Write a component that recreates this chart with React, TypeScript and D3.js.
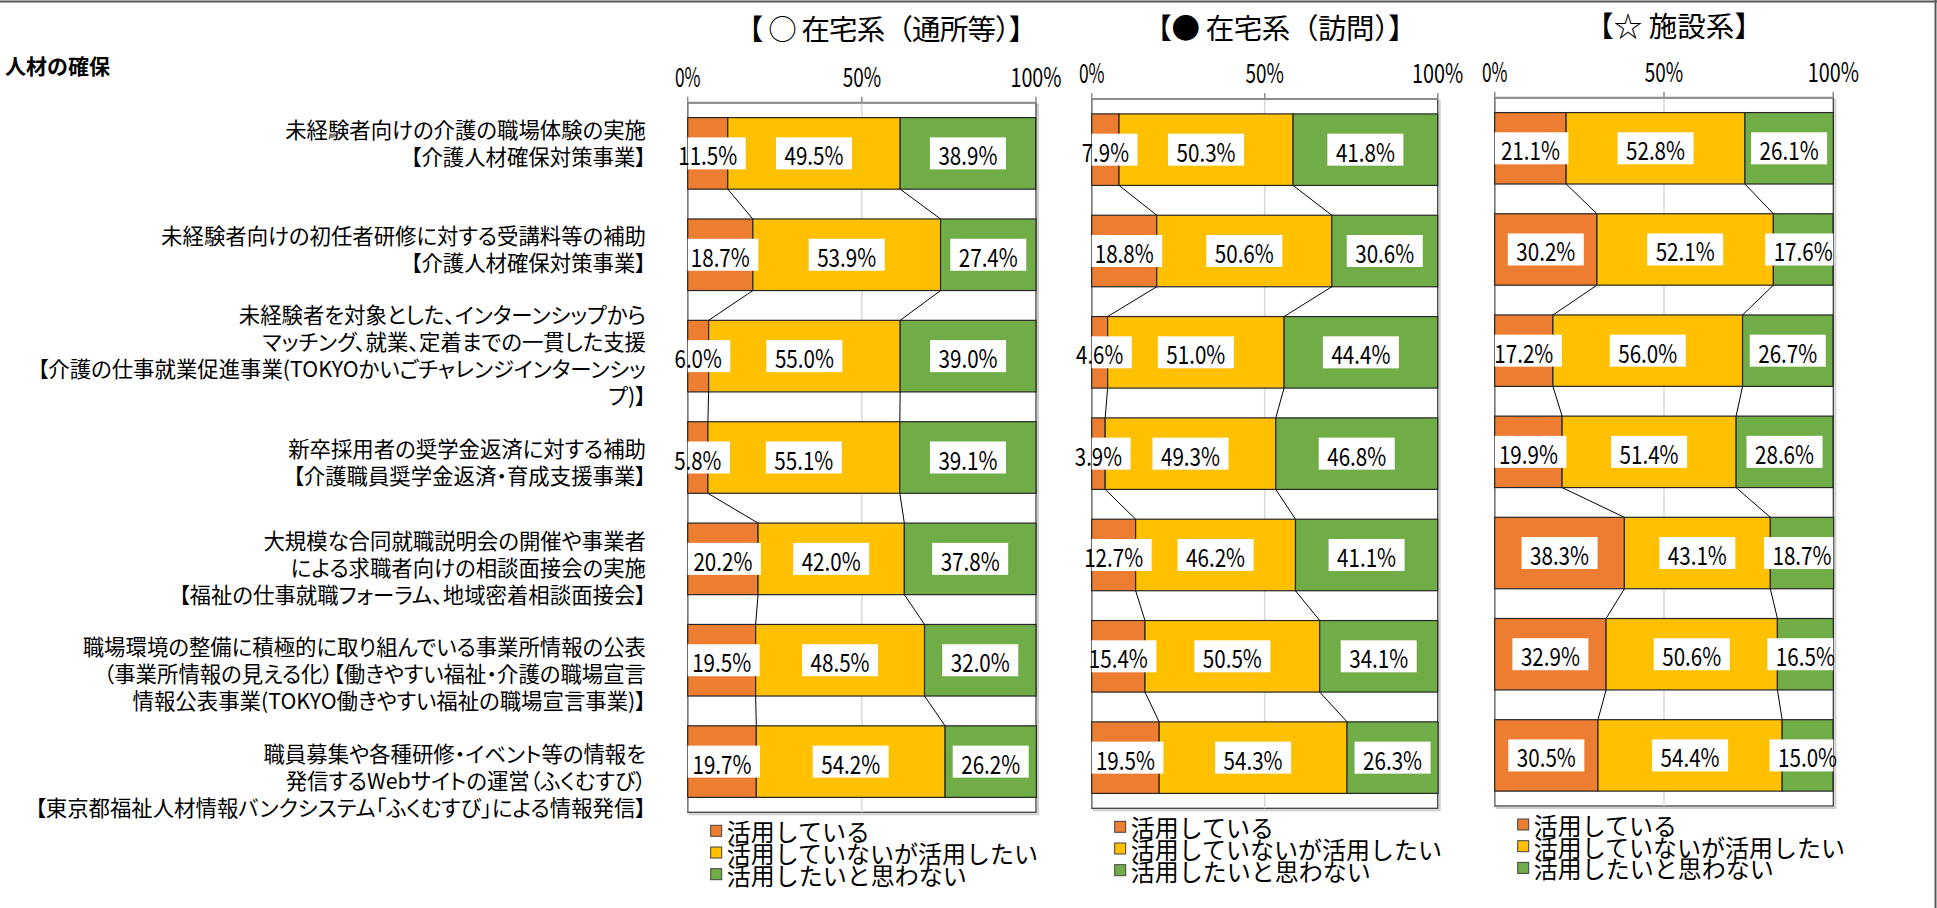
import React, { useEffect, useRef } from "react";
import * as d3 from "d3";

const W = 1937;
const H = 908;
const FONT = '"Noto Sans CJK JP", "Noto Sans", sans-serif';

const sectionTitle = "人材の確保";

const categories = ["c1", "c2", "c3", "c4", "c5", "c6", "c7"];
const categoryLines = [
  ["未経験者向けの介護の職場体験の実施", "【介護人材確保対策事業】"],
  ["未経験者向けの初任者研修に対する受講料等の補助", "【介護人材確保対策事業】"],
  [
    "未経験者を対象とした、インターンシップから",
    "マッチング、就業、定着までの一貫した支援",
    "【介護の仕事就業促進事業(TOKYOかいごチャレンジインターンシッ",
    "プ)】",
  ],
  ["新卒採用者の奨学金返済に対する補助", "【介護職員奨学金返済・育成支援事業】"],
  [
    "大規模な合同就職説明会の開催や事業者",
    "による求職者向けの相談面接会の実施",
    "【福祉の仕事就職フォーラム、地域密着相談面接会】",
  ],
  [
    "職場環境の整備に積極的に取り組んでいる事業所情報の公表",
    "（事業所情報の見える化）【働きやすい福祉・介護の職場宣言",
    "情報公表事業(TOKYO働きやすい福祉の職場宣言事業)】",
  ],
  [
    "職員募集や各種研修・イベント等の情報を",
    "発信するWebサイトの運営（ふくむすび）",
    "【東京都福祉人材情報バンクシステム「ふくむすび」による情報発信】",
  ],
];

const seriesNames = ["活用している", "活用していないが活用したい", "活用したいと思わない"];
const seriesColors = ["#ED7D31", "#FFC000", "#70AD47"];

const panelTitles = ["【 ○ 在宅系（通所等）】", "【● 在宅系（訪問）】", "【☆ 施設系】"];
const tickValues = [0, 50, 100];

// 在宅系（通所等）
const tsushoUsing = [11.5, 18.7, 6.0, 5.8, 20.2, 19.5, 19.7];
const tsushoWant = [49.5, 53.9, 55.0, 55.1, 42.0, 48.5, 54.2];
const tsushoNot = [38.9, 27.4, 39.0, 39.1, 37.8, 32.0, 26.2];

// 在宅系（訪問）
const homonUsing = [7.9, 18.8, 4.6, 3.9, 12.7, 15.4, 19.5];
const homonWant = [50.3, 50.6, 51.0, 49.3, 46.2, 50.5, 54.3];
const homonNot = [41.8, 30.6, 44.4, 46.8, 41.1, 34.1, 26.3];

// 施設系
const shisetsuUsing = [21.1, 30.2, 17.2, 19.9, 38.3, 32.9, 30.5];
const shisetsuWant = [52.8, 52.1, 56.0, 51.4, 43.1, 50.6, 54.4];
const shisetsuNot = [26.1, 17.6, 26.7, 28.6, 18.7, 16.5, 15.0];

// titleW = 0 keeps the natural width
const panelLayouts = [
  { left: 687.7, right: 1036, top: 102.7, bottom: 812.3, titleX: 886, titleY: 27, titleW: 302, tickY: 75 },
  { left: 1091.7, right: 1437.7, top: 99, bottom: 808.3, titleX: 1280, titleY: 26, titleW: 273, tickY: 71.7 },
  { left: 1494.7, right: 1833.3, top: 97.7, bottom: 806, titleX: 1674, titleY: 24, titleW: 0, tickY: 70 },
];

export default function App() {
  const svgRef = useRef<SVGSVGElement | null>(null);

  useEffect(() => {
    if (!svgRef.current) return;
    const svg = d3.select(svgRef.current);
    svg.selectAll("*").remove();

    svg.append("rect").attr("width", W).attr("height", H).attr("fill", "#fff");

    // outer frame (top and right edges visible)
    svg.append("line").attr("x1", 0).attr("x2", W).attr("y1", 1.5).attr("y2", 1.5)
      .attr("stroke", "#595959").attr("stroke-width", 2);
    svg.append("line").attr("x1", W - 1.5).attr("x2", W - 1.5).attr("y1", 0).attr("y2", H)
      .attr("stroke", "#595959").attr("stroke-width", 2);

    svg.append("text")
      .attr("x", 5).attr("y", 65)
      .attr("dominant-baseline", "central")
      .attr("font-family", FONT).attr("font-size", 21).attr("font-weight", 700)
      .text(sectionTitle);

    // category labels on the left
    const labelY = d3.scalePoint<string>().domain(categories).range([142, 779]);
    const lineH = 27;
    categories.forEach((c, i) => {
      const lines = categoryLines[i];
      const cy = labelY(c) as number;
      lines.forEach((ln, j) => {
        svg.append("text")
          .attr("x", 646)
          .attr("y", cy + (j - (lines.length - 1) / 2) * lineH)
          .attr("text-anchor", "end")
          .attr("dominant-baseline", "central")
          .attr("font-family", FONT)
          .attr("font-size", 21.4)
          .style("font-feature-settings", '"palt"')
          .attr("fill", "#000")
          .text(ln);
      });
    });

    const panelData = [
      [tsushoUsing, tsushoWant, tsushoNot],
      [homonUsing, homonWant, homonNot],
      [shisetsuUsing, shisetsuWant, shisetsuNot],
    ];

    panelData.forEach((series, p) => {
      const L = panelLayouts[p];
      const g = svg.append("g");

      const x = d3.scaleLinear().domain([0, 100]).range([L.left, L.right]);
      const y = d3.scaleBand<string>()
        .domain(categories)
        .range([L.top, L.bottom])
        .paddingInner(0.294)
        .paddingOuter(0.147);
      const bw = y.bandwidth();

      // title
      const title = g.append("text")
        .attr("x", L.titleX).attr("y", L.titleY)
        .attr("text-anchor", "middle").attr("dominant-baseline", "central")
        .attr("font-family", FONT).attr("font-size", 28.5)
        .style("white-space", "pre")
        .text(panelTitles[p]);
      if (L.titleW) title.attr("textLength", L.titleW).attr("lengthAdjust", "spacing");

      // plot frame with soft shadow
      g.append("rect")
        .attr("x", L.left + 2).attr("y", L.top + 2)
        .attr("width", L.right - L.left).attr("height", L.bottom - L.top)
        .attr("fill", "none").attr("stroke", "#cfcfcf").attr("stroke-width", 2);
      g.append("rect")
        .attr("x", L.left).attr("y", L.top)
        .attr("width", L.right - L.left).attr("height", L.bottom - L.top)
        .attr("fill", "#fff").attr("stroke", "#404040").attr("stroke-width", 1.3);

      // grid line at 50%
      g.append("line")
        .attr("x1", x(50)).attr("x2", x(50))
        .attr("y1", L.top).attr("y2", L.bottom)
        .attr("stroke", "#d9d9d9").attr("stroke-width", 1.5);

      // top value axis
      g.append("line")
        .attr("x1", L.left).attr("x2", L.right)
        .attr("y1", L.top).attr("y2", L.top)
        .attr("stroke", "#8c8c8c").attr("stroke-width", 2);
      g.append("line")
        .attr("x1", L.left).attr("x2", L.left)
        .attr("y1", L.top).attr("y2", L.bottom)
        .attr("stroke", "#7f7f7f").attr("stroke-width", 1.3);
      tickValues.forEach((t) => {
        g.append("line")
          .attr("x1", x(t)).attr("x2", x(t))
          .attr("y1", L.top - 6).attr("y2", L.top)
          .attr("stroke", "#8c8c8c").attr("stroke-width", 1.5);
        const s = `${t}%`;
        g.append("text")
          .attr("x", x(t)).attr("y", L.tickY)
          .attr("text-anchor", "middle").attr("dominant-baseline", "central")
          .attr("font-family", FONT).attr("font-size", 27)
          .attr("textLength", s.length * 12.8)
          .attr("lengthAdjust", "spacingAndGlyphs")
          .attr("fill", "#000")
          .text(s);
      });

      // cumulative boundaries
      const stacks = categories.map((_, i) => {
        let acc = 0;
        return series.map((s) => {
          const start = acc;
          acc += s[i];
          return { start, end: acc, value: s[i] };
        });
      });

      // series lines between bars
      for (let i = 0; i < categories.length - 1; i++) {
        for (let k = 0; k < 2; k++) {
          g.append("line")
            .attr("x1", x(stacks[i][k].end))
            .attr("y1", (y(categories[i]) as number) + bw)
            .attr("x2", x(stacks[i + 1][k].end))
            .attr("y2", y(categories[i + 1]) as number)
            .attr("stroke", "#000").attr("stroke-width", 1);
        }
      }

      // bars
      categories.forEach((c, i) => {
        stacks[i].forEach((seg, k) => {
          g.append("rect")
            .attr("x", x(seg.start))
            .attr("y", y(c) as number)
            .attr("width", x(seg.end) - x(seg.start))
            .attr("height", bw)
            .attr("fill", seriesColors[k])
            .attr("stroke", "#262626").attr("stroke-width", 1.2);
        });
      });

      // data labels (box clipped to the plot area, text stays centred)
      categories.forEach((c, i) => {
        const cy = (y(c) as number) + bw / 2;
        stacks[i].forEach((seg) => {
          const s = `${seg.value.toFixed(1)}%`;
          const tw = s.length * 11.8;
          const cx = x((seg.start + seg.end) / 2);
          const bx0 = Math.max(L.left, cx - tw / 2 - 8.5);
          const bx1 = Math.min(L.right, cx + tw / 2 + 8.5);
          g.append("rect")
            .attr("x", bx0).attr("y", cy - 16)
            .attr("width", bx1 - bx0).attr("height", 32)
            .attr("fill", "#fff");
          g.append("text")
            .attr("x", cx).attr("y", cy + 1)
            .attr("text-anchor", "middle").attr("dominant-baseline", "central")
            .attr("font-family", FONT).attr("font-size", 25)
            .attr("textLength", tw)
            .attr("lengthAdjust", "spacingAndGlyphs")
            .attr("fill", "#000")
            .text(s);
        });
      });

      // legend
      seriesNames.forEach((name, k) => {
        const ly = L.bottom + 18.5 + k * 21.7;
        g.append("rect")
          .attr("x", L.left + 23).attr("y", ly - 5.5)
          .attr("width", 11).attr("height", 11)
          .attr("fill", seriesColors[k])
          .attr("stroke", "#404040").attr("stroke-width", 1);
        g.append("text")
          .attr("x", L.left + 39).attr("y", ly)
          .attr("dominant-baseline", "central")
          .attr("font-family", FONT).attr("font-size", 24)
          .attr("fill", "#000")
          .text(name);
      });
    });
  }, []);

  return (
    <svg
      ref={svgRef}
      width={W}
      height={H}
      style={{ position: "absolute", left: 0, top: 0, display: "block" }}
    />
  );
}
